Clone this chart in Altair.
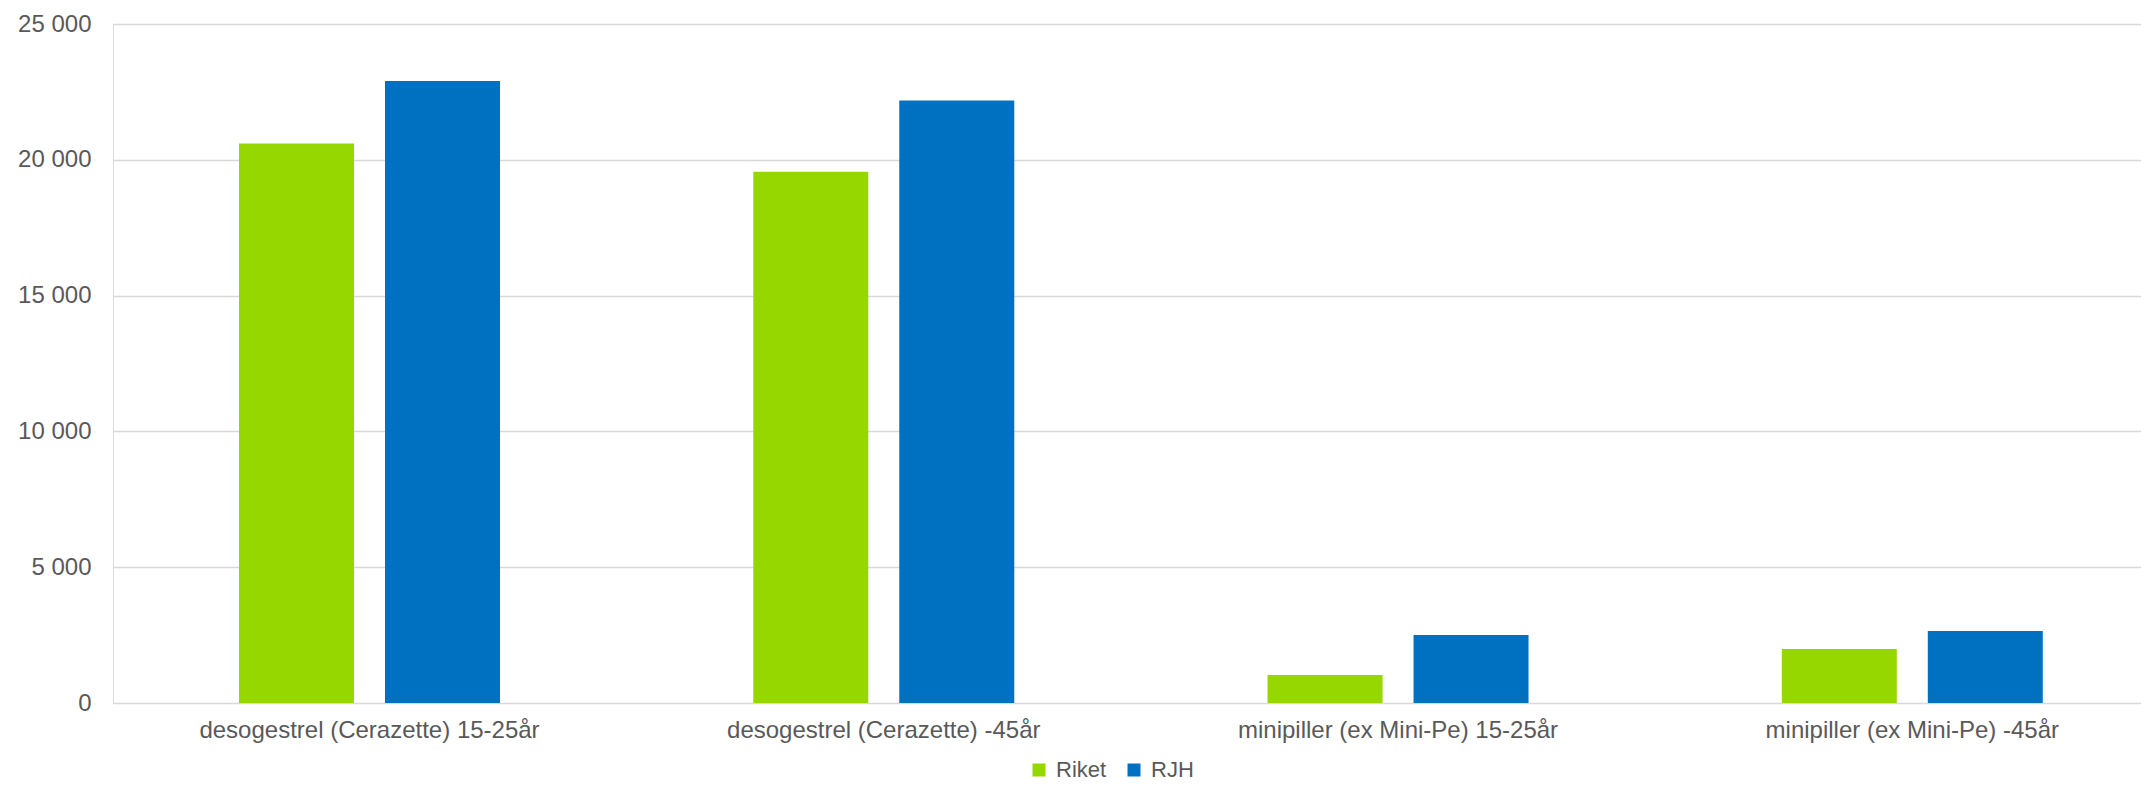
import altair as alt
import pandas as pd

categories = [
    "desogestrel (Cerazette) 15-25år",
    "desogestrel (Cerazette) -45år",
    "minipiller (ex Mini-Pe) 15-25år",
    "minipiller (ex Mini-Pe) -45år",
]
series = ["Riket", "RJH"]
riket = [20600, 19560, 1030, 1990]
rjh = [22900, 22180, 2500, 2650]
colors = ["#97D700", "#0070C0"]
y_ticks = [0, 5000, 10000, 15000, 20000, 25000]

rows = []
for c, a, b in zip(categories, riket, rjh):
    rows.append({"cat": c, "series": "Riket", "value": a})
    rows.append({"cat": c, "series": "RJH", "value": b})
df = pd.DataFrame(rows)

FONT = "Liberation Sans"
TXT = "#595959"

chart = alt.Chart(df).mark_bar().encode(
    x=alt.X(
        "cat:N",
        sort=categories,
        scale=alt.Scale(paddingInner=0.4925, paddingOuter=0.218, align=0.562),
        axis=alt.Axis(
            title=None, labelAngle=0, ticks=False, domain=False,
            labelPadding=15, labelFontSize=24, labelColor=TXT, labelFont=FONT,
            labelLimit=0,
        ),
    ),
    xOffset=alt.XOffset(
        "series:N", sort=series,
        scale=alt.Scale(paddingInner=0.2123, paddingOuter=0),
    ),
    y=alt.Y(
        "value:Q",
        scale=alt.Scale(domain=[0, 25000], nice=False),
        axis=alt.Axis(
            title=None, values=y_ticks, domain=False, ticks=False,
            grid=True, gridColor="#d9d9d9", gridWidth=1.5,
            labelPadding=22, labelFontSize=24, labelColor=TXT, labelFont=FONT,
            labelExpr="replace(format(datum.value, ','), ',', ' ')",
        ),
    ),
    color=alt.Color(
        "series:N",
        sort=series,
        scale=alt.Scale(domain=series, range=colors),
        legend=alt.Legend(
            title=None, orient="none", legendX=915, legendY=735,
            direction="horizontal", symbolType="square", symbolSize=169,
            symbolStrokeWidth=0, symbolOpacity=1,
            labelFontSize=22, labelColor=TXT, labelFont=FONT,
            columnPadding=16, labelOffset=6,
        ),
    ),
).properties(
    width=2028,
    height=679,
    autosize=alt.AutoSizeParams(type="none"),
    padding={"left": 105, "top": 16, "right": 0, "bottom": 82},
).configure_view(strokeWidth=0).configure(background="white")

chart.save("out.html", embed_options={"renderer": "svg", "actions": False})
